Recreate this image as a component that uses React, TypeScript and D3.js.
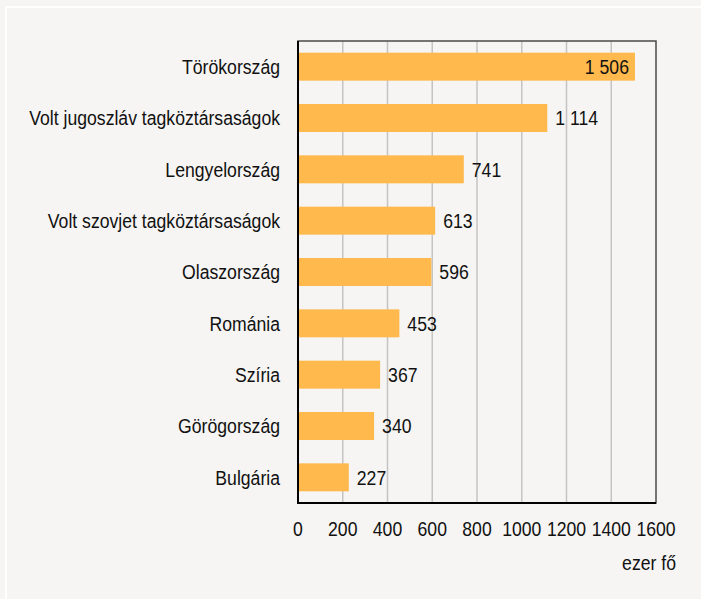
import React from 'react';
import * as d3 from 'd3';

const categories = [
  'Törökország',
  'Volt jugoszláv tagköztársaságok',
  'Lengyelország',
  'Volt szovjet tagköztársaságok',
  'Olaszország',
  'Románia',
  'Szíria',
  'Görögország',
  'Bulgária',
];
const values = [1506, 1114, 741, 613, 596, 453, 367, 340, 227];
const ticks = [0, 200, 400, 600, 800, 1000, 1200, 1400, 1600];
const unitLabel = 'ezer fő';

const W = 701;
const H = 599;
const FONT = '"Liberation Sans", Arial, sans-serif';
const FS = 21;
const SQUEEZE = 0.84; // narrow look of the original font

// format with a space as thousands separator
const fmt = (v: number) => {
  const s = String(v);
  return s.length > 3 ? s.slice(0, -3) + ' ' + s.slice(-3) : s;
};

// condensed text, positioned at (x, y) baseline
const Label = ({ x, y, anchor, children }: { x: number; y: number; anchor: string; children: React.ReactNode }) => (
  <g transform={`translate(${x},${y}) scale(${SQUEEZE},1)`}>
    <text textAnchor={anchor} fontFamily={FONT} fontSize={FS} fill="#111">
      {children}
    </text>
  </g>
);

export default function App() {
  const left = 298;
  const right = 656;
  const top = 41;
  const bottom = 503;

  const x = d3.scaleLinear().domain([0, 1600]).range([left, right]);
  const y = d3
    .scaleBand<string>()
    .domain(categories)
    .range([top, bottom])
    .paddingInner(0.455)
    .paddingOuter(0.2275);

  const mid = (c: string) => (y(c) as number) + y.bandwidth() / 2 + FS * 0.35;

  return (
    <svg width={W} height={H} style={{ position: 'absolute', left: 0, top: 0 }}>
      <rect x={0} y={0} width={W} height={H} fill="#f6f5f3" />
      <rect x={6} y={7} width={W + 20} height={H + 20} fill="none" stroke="#ffffff" strokeWidth={2} />

      {/* gridlines */}
      {ticks.slice(1, -1).map((t) => (
        <line key={t} x1={x(t)} x2={x(t)} y1={top} y2={bottom} stroke="#c4c4c4" strokeWidth={1.5} />
      ))}

      {/* bars */}
      {categories.map((c, i) => (
        <rect
          key={c}
          x={x(0)}
          y={y(c)}
          width={x(values[i]) - x(0)}
          height={y.bandwidth()}
          fill="#ffb94c"
        />
      ))}

      {/* frame */}
      <rect x={left} y={top} width={right - left} height={bottom - top} fill="none" stroke="#4a4a4a" strokeWidth={1.5} />
      <line x1={left} x2={left} y1={top} y2={bottom + 1} stroke="#000" strokeWidth={2} />
      <line x1={left} x2={right} y1={bottom} y2={bottom} stroke="#000" strokeWidth={2} />

      {/* category labels */}
      {categories.map((c) => (
        <Label key={c} x={left - 18} y={mid(c)} anchor="end">
          {c}
        </Label>
      ))}

      {/* value labels */}
      {categories.map((c, i) => {
        const inside = values[i] > 1400;
        return (
          <Label
            key={c}
            x={inside ? x(values[i]) - 6 : x(values[i]) + 8}
            y={mid(c)}
            anchor={inside ? 'end' : 'start'}
          >
            {fmt(values[i])}
          </Label>
        );
      })}

      {/* x tick labels */}
      {ticks.map((t) => (
        <Label key={t} x={x(t)} y={529 + FS * 0.35} anchor="middle">
          {t}
        </Label>
      ))}

      <Label x={676} y={570} anchor="end">
        {unitLabel}
      </Label>
    </svg>
  );
}
